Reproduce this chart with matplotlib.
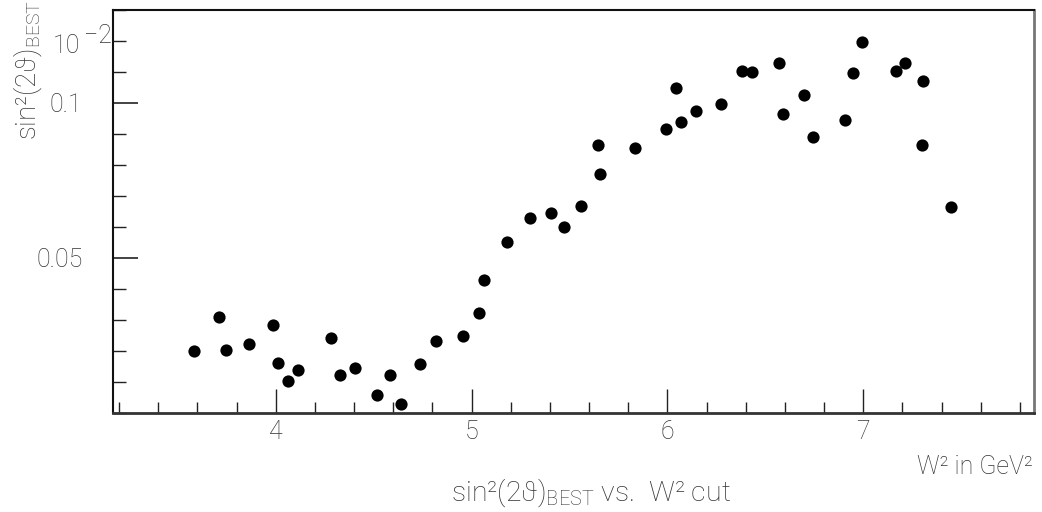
import matplotlib
matplotlib.use("Agg")
import matplotlib.pyplot as plt
from matplotlib.ticker import MultipleLocator, FixedLocator

# W^2 cut values (GeV^2)
w2_cut = [3.583, 3.711, 3.745, 3.865, 3.988, 4.010, 4.064, 4.115, 4.281, 4.330,
          4.403, 4.516, 4.585, 4.637, 4.738, 4.818, 4.955, 5.038, 5.065, 5.182,
          5.298, 5.404, 5.470, 5.559, 5.645, 5.656, 5.836, 5.993, 6.044, 6.069,
          6.144, 6.275, 6.381, 6.433, 6.571, 6.588, 6.696, 6.745, 6.908, 6.949,
          6.995, 7.167, 7.211, 7.305, 7.301, 7.448]
# sin^2(2 theta)_BEST in units of 10^-2
sin2_best = [0.0198, 0.0308, 0.0203, 0.0222, 0.0284, 0.0159, 0.0102, 0.0138, 0.0241, 0.0121,
             0.0143, 0.0056, 0.0121, 0.0027, 0.0157, 0.0232, 0.0247, 0.0323, 0.0428, 0.0551,
             0.0629, 0.0643, 0.0598, 0.0668, 0.0863, 0.0770, 0.0854, 0.0916, 0.1047, 0.0939,
             0.0972, 0.0995, 0.1101, 0.1100, 0.1129, 0.0964, 0.1026, 0.0888, 0.0945, 0.1097,
             0.1195, 0.1101, 0.1127, 0.1070, 0.0864, 0.0665]

x_ticks = [4, 5, 6, 7]
x_ticklabels = ["4", "5", "6", "7"]
y_ticks = [0.05, 0.1]
y_ticklabels = ["0.05", "0.1"]

plt.rcParams['font.family'] = ['Roboto', 'DejaVu Sans']
plt.rcParams['font.weight'] = 'light'
plt.rcParams['mathtext.fontset'] = 'custom'
plt.rcParams['mathtext.rm'] = 'Roboto:light'
plt.rcParams['mathtext.it'] = 'DejaVu Sans:italic:light'
plt.rcParams['mathtext.default'] = 'regular'

W, H = 1042, 512
fig = plt.figure(figsize=(W / 100, H / 100), dpi=100)
L, R, T, B = 113, 1034, 9.5, 412.7
ax = fig.add_axes([L / W, 1 - B / H, (R - L) / W, (B - T) / H])

ax.plot(w2_cut, sin2_best, 'o', color='black', markersize=8.8, markeredgewidth=0)

ax.set_xlim(3.169, 7.8715)
ax.set_ylim(0.0, 0.1301)

ax.xaxis.set_major_locator(FixedLocator(x_ticks))
ax.set_xticklabels(x_ticklabels)
ax.xaxis.set_minor_locator(MultipleLocator(0.2))
ax.yaxis.set_major_locator(FixedLocator(y_ticks))
ax.set_yticklabels(y_ticklabels)
ax.yaxis.set_minor_locator(MultipleLocator(0.01))

ax.tick_params(axis='both', which='both', direction='in', top=False, right=False,
               colors='#222222', labelcolor='#333333', labelsize=18)
ax.tick_params(axis='x', which='major', length=17, width=1, pad=5)
ax.tick_params(axis='x', which='minor', length=8, width=1)
ax.tick_params(axis='y', which='major', length=18, width=1.2, pad=22)
ax.tick_params(axis='y', which='minor', length=9, width=1)

for side in ['left', 'top']:
    ax.spines[side].set_linewidth(1.5)
    ax.spines[side].set_color('#111111')
ax.spines['bottom'].set_linewidth(2)
ax.spines['bottom'].set_color('#333333')
ax.spines['right'].set_linewidth(2)
ax.spines['right'].set_color('#777777')

fig.text(53 / W, 1 - 46 / H, "10", fontsize=18, color='#333333', ha='left', va='center')
fig.text(84 / W, 1 - 36 / H, "\u22122", fontsize=18, color='#333333', ha='left', va='center')
fig.text(28 / W, 1 - 70 / H, r"sin²(2$\vartheta$)$_{BEST}$", fontsize=20,
         rotation=90, ha='center', va='center', color='#333333')
fig.text(1033 / W, 1 - 467 / H, "W² in GeV²", fontsize=18, ha='right', va='center',
         color='#333333')
fig.text(591 / W, 1 - 493 / H, r"sin²(2$\vartheta$)$_{BEST}$ vs.  W² cut",
         fontsize=20.5, ha='center', va='center', color='#333333')

fig.savefig("out.png", dpi=100, facecolor='white')
